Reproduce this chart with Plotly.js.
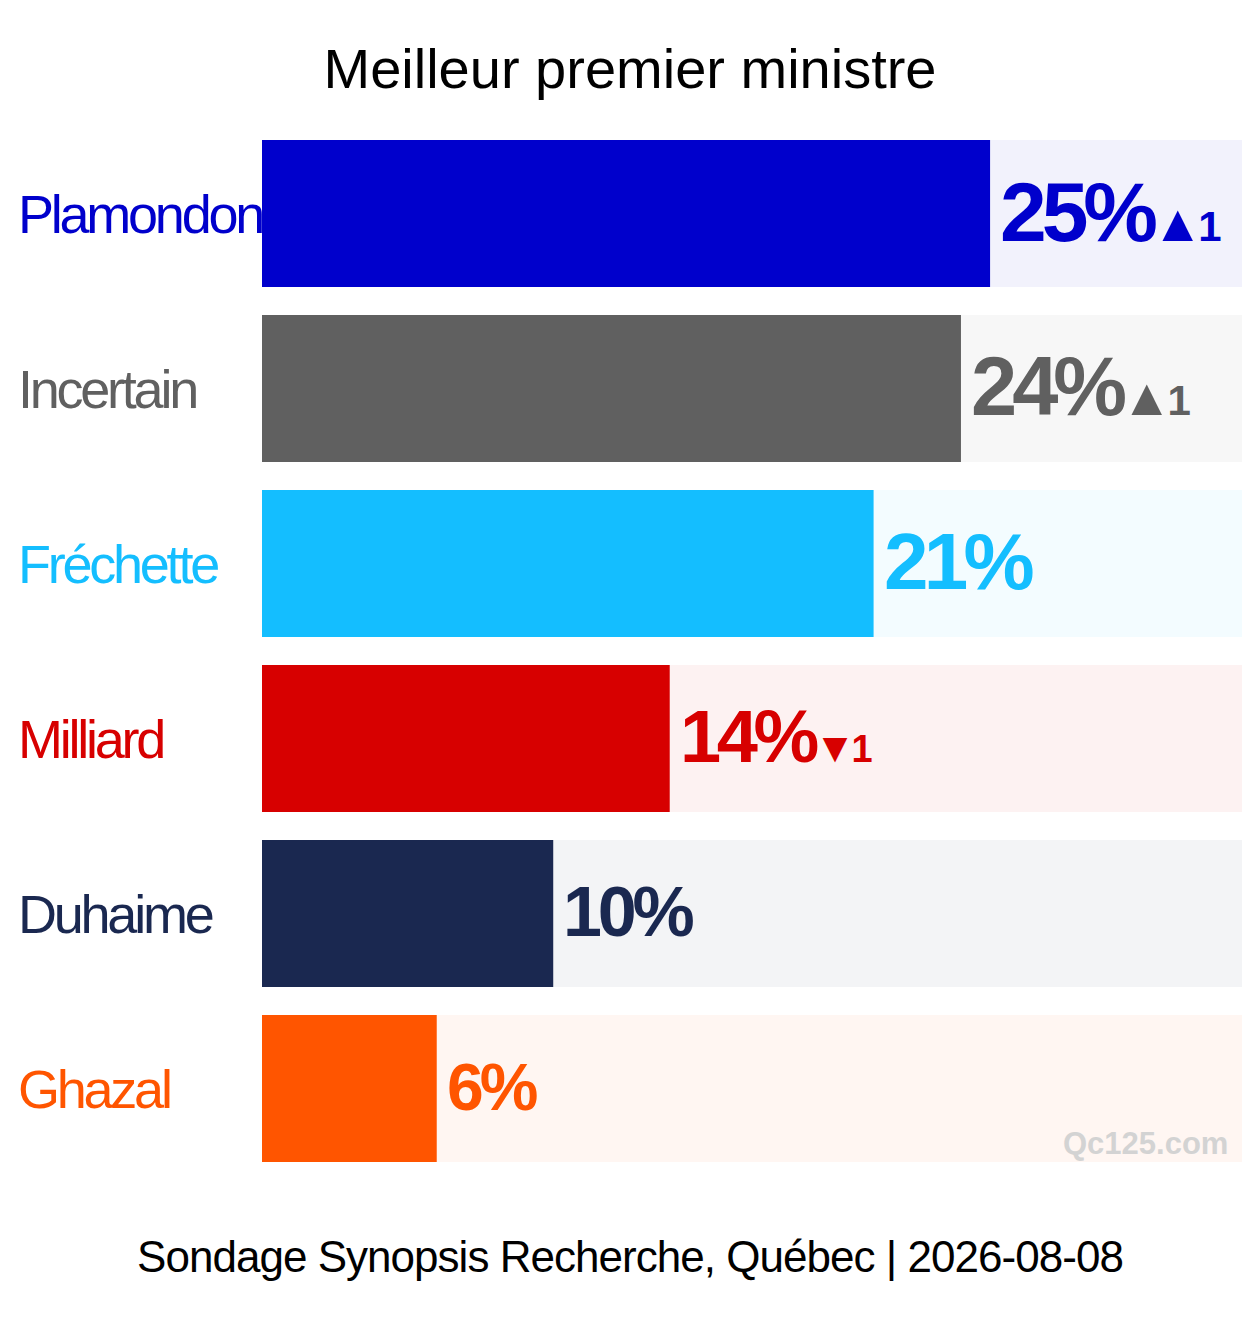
<!DOCTYPE html>
<html>
<head>
<meta charset="utf-8">
<script src="https://cdn.plot.ly/plotly-3.0.1.min.js"></script>
<style>
  html, body { margin: 0; padding: 0; background: #ffffff; }
  #chart { width: 1260px; height: 1330px; }
</style>
</head>
<body>
<div id="chart"></div>
<script>
// Poll data
var candidates = ['Plamondon', 'Incertain', 'Fréchette', 'Milliard', 'Duhaime', 'Ghazal'];
var values = [25, 24, 21, 14, 10, 6];
var changes = [1, 1, 0, -1, 0, 0];
var colors = ['#0000CC', '#606060', '#14BEFF', '#D70000', '#1A2850', '#FF5500'];
var axisMax = 33.65;

var chartTitle = 'Meilleur premier ministre';
var footerText = 'Sondage Synopsis Recherche, Québec | 2026-08-08';
var watermark = 'Qc125.com';

var FONT = '"Liberation Sans", Arial, Helvetica, sans-serif';

// Turns "#RRGGBB" into a pale tint for the background track
function tint(hex, alpha) {
    var r = parseInt(hex.slice(1, 3), 16);
    var g = parseInt(hex.slice(3, 5), 16);
    var b = parseInt(hex.slice(5, 7), 16);
    return 'rgba(' + r + ',' + g + ',' + b + ',' + alpha + ')';
}

var trackTrace = {
    type: 'bar',
    orientation: 'h',
    y: candidates,
    x: candidates.map(function () { return axisMax; }),
    marker: { color: colors.map(function (c) { return tint(c, 0.05); }) },
    hoverinfo: 'skip'
};

var barTrace = {
    type: 'bar',
    orientation: 'h',
    y: candidates,
    x: values,
    marker: { color: colors },
    hoverinfo: 'skip'
};

var annotations = [];

candidates.forEach(function (name, i) {
    // candidate name on the left
    annotations.push({
        xref: 'paper', yref: 'y',
        x: -0.251, y: name,
        xanchor: 'left', yanchor: 'middle',
        showarrow: false,
        text: '<span style="letter-spacing:-0.06em">' + name + '</span>',
        font: { family: FONT, size: 54, color: colors[i] }
    });

    // value label, size grows with the value
    var size = Math.round(66 + (values[i] - 6) * 18 / 19);
    var txt = values[i] + '%';
    if (changes[i] > 0) {
        txt += '<span style="font-size:14px"> </span><span style="font-size:52px">▲</span><span style="font-size:42px">' + changes[i] + '</span>';
    } else if (changes[i] < 0) {
        txt += '<span style="font-size:14px"> </span><span style="font-size:42px">▼</span><span style="font-size:38px">' + Math.abs(changes[i]) + '</span>';
    }
    annotations.push({
        xref: 'x', yref: 'y',
        x: values[i], y: name,
        xanchor: 'left', yanchor: 'middle',
        xshift: 8, yshift: 2,
        showarrow: false,
        text: '<span style="letter-spacing:-0.06em"><b>' + txt + '</b></span>',
        font: { family: FONT, size: size, color: colors[i] }
    });
});

// watermark in the last track
annotations.push({
    xref: 'paper', yref: 'paper',
    x: 0.988, y: 0.0305,
    xanchor: 'right', yanchor: 'middle',
    showarrow: false,
    text: '<b>' + watermark + '</b>',
    font: { family: FONT, size: 31, color: '#D3D3D3' }
});

// source line under the chart
annotations.push({
    xref: 'paper', yref: 'paper',
    x: 0.3755, y: -0.0771,
    xanchor: 'center', yanchor: 'middle',
    showarrow: false,
    text: '<span style="letter-spacing:-0.022em">' + footerText + '</span>',
    font: { family: FONT, size: 44, color: '#000000' }
});

var layout = {
    width: 1260,
    height: 1330,
    margin: { l: 262, r: 18, t: 126, b: 154 },
    paper_bgcolor: '#ffffff',
    plot_bgcolor: '#ffffff',
    showlegend: false,
    barmode: 'overlay',
    bargap: 0.16,
    title: {
        text: chartTitle,
        font: { family: FONT, size: 56, color: '#000000' },
        x: 0.5, xref: 'container', xanchor: 'center',
        y: 1 - 68 / 1330, yref: 'container', yanchor: 'middle'
    },
    xaxis: {
        range: [0, axisMax],
        showgrid: false,
        zeroline: false,
        showticklabels: false,
        showline: false,
        fixedrange: true
    },
    yaxis: {
        autorange: 'reversed',
        showgrid: false,
        zeroline: false,
        showticklabels: false,
        showline: false,
        fixedrange: true
    },
    annotations: annotations
};

Plotly.newPlot('chart', [trackTrace, barTrace], layout, { displayModeBar: false, staticPlot: true });
</script>
</body>
</html>
